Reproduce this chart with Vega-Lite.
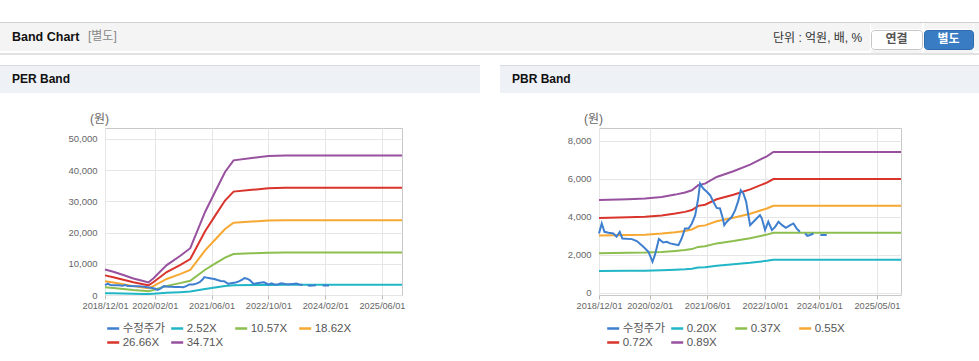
{
  "$schema": "https://vega.github.io/schema/vega-lite/v6.json",
  "background": "white",
  "padding": {"top": 22, "left": 0, "right": 0, "bottom": 0},
  "spacing": 0,
  "config": {
    "font": "Liberation Sans, Noto Sans CJK KR, sans-serif",
    "view": {"stroke": null},
    "concat": {"spacing": 0},
    "axis": {"labelOverlap": false}
  },
  "resolve": {"scale": {"color": "independent", "x": "independent", "y": "independent"}, "legend": {"color": "independent"}},
  "datasets": {
    "none": [],
    "price": [
      {"d":"2018-12-01","v":3120},{"d":"2018-12-24","v":3650},{"d":"2019-01-16","v":3210},{"d":"2019-02-19","v":3160},
      {"d":"2019-04-01","v":3120},{"d":"2019-04-28","v":2950},{"d":"2019-05-25","v":3210},{"d":"2019-06-16","v":2860},
      {"d":"2019-09-04","v":2825},{"d":"2019-10-16","v":2720},{"d":"2019-12-10","v":2420},{"d":"2020-01-22","v":2160},
      {"d":"2020-02-25","v":1630},{"d":"2020-03-16","v":1980},{"d":"2020-04-19","v":2830},{"d":"2020-05-25","v":2650},
      {"d":"2020-06-25","v":2680},{"d":"2020-07-22","v":2600},{"d":"2020-09-04","v":2540},{"d":"2020-10-01","v":2510},
      {"d":"2020-10-28","v":2860},{"d":"2020-11-25","v":3380},{"d":"2020-12-25","v":3380},{"d":"2021-01-22","v":3650},
      {"d":"2021-02-19","v":4090},{"d":"2021-03-16","v":4960},{"d":"2021-04-01","v":5750},{"d":"2021-04-28","v":5490},
      {"d":"2021-05-28","v":5320},{"d":"2021-06-25","v":5140},{"d":"2021-07-22","v":4790},{"d":"2021-08-19","v":4470},
      {"d":"2021-09-16","v":4440},{"d":"2021-10-10","v":3910},{"d":"2021-10-22","v":3560},{"d":"2021-11-13","v":3740},
      {"d":"2021-12-25","v":4000},{"d":"2022-01-22","v":4350},{"d":"2022-02-19","v":4880},{"d":"2022-03-10","v":5400},
      {"d":"2022-04-01","v":5230},{"d":"2022-04-25","v":4790},{"d":"2022-05-13","v":4090},{"d":"2022-05-28","v":3560},
      {"d":"2022-06-25","v":3740},{"d":"2022-07-22","v":3910},{"d":"2022-08-19","v":4090},{"d":"2022-09-04","v":3910},
      {"d":"2022-10-01","v":3300},{"d":"2022-10-28","v":3740},{"d":"2022-11-28","v":3300},{"d":"2022-12-25","v":3470},
      {"d":"2023-01-22","v":3740},{"d":"2023-02-22","v":3560},{"d":"2023-03-25","v":3420},{"d":"2023-05-01","v":3560},
      {"d":"2023-05-28","v":3650},{"d":"2023-06-25","v":3380},{"d":"2023-07-22","v":3210},{"d":"2023-08-12","v":null},
      {"d":"2023-09-04","v":3120},{"d":"2023-09-22","v":3000},{"d":"2023-10-16","v":3040},{"d":"2023-11-13","v":3120},
      {"d":"2023-12-10","v":null},{"d":"2024-01-10","v":3040},{"d":"2024-03-04","v":3040}
    ],
    "perBands": [
      {"d":"2018-12-01","s":"2.52X","v":594},{"d":"2018-12-01","s":"10.57X","v":2491},{"d":"2018-12-01","s":"18.62X","v":4389},{"d":"2018-12-01","s":"26.66X","v":6284},{"d":"2018-12-01","s":"34.71X","v":8181},
      {"d":"2019-02-10","s":"2.52X","v":540},{"d":"2019-02-10","s":"10.57X","v":2265},{"d":"2019-02-10","s":"18.62X","v":3990},{"d":"2019-02-10","s":"26.66X","v":5713},{"d":"2019-02-10","s":"34.71X","v":7438},
      {"d":"2019-05-07","s":"2.52X","v":464},{"d":"2019-05-07","s":"10.57X","v":1946},{"d":"2019-05-07","s":"18.62X","v":3428},{"d":"2019-05-07","s":"26.66X","v":4908},{"d":"2019-05-07","s":"34.71X","v":6390},
      {"d":"2019-08-01","s":"2.52X","v":385},{"d":"2019-08-01","s":"10.57X","v":1614},{"d":"2019-08-01","s":"18.62X","v":2843},{"d":"2019-08-01","s":"26.66X","v":4071},{"d":"2019-08-01","s":"34.71X","v":5300},
      {"d":"2019-10-25","s":"2.52X","v":325},{"d":"2019-10-25","s":"10.57X","v":1361},{"d":"2019-10-25","s":"18.62X","v":2398},{"d":"2019-10-25","s":"26.66X","v":3434},{"d":"2019-10-25","s":"34.71X","v":4471},
      {"d":"2019-12-07","s":"2.52X","v":293},{"d":"2019-12-07","s":"10.57X","v":1227},{"d":"2019-12-07","s":"18.62X","v":2162},{"d":"2019-12-07","s":"26.66X","v":3095},{"d":"2019-12-07","s":"34.71X","v":4030},
      {"d":"2020-01-19","s":"2.52X","v":385},{"d":"2020-01-19","s":"10.57X","v":1614},{"d":"2020-01-19","s":"18.62X","v":2843},{"d":"2020-01-19","s":"26.66X","v":4071},{"d":"2020-01-19","s":"34.71X","v":5300},
      {"d":"2020-05-13","s":"2.52X","v":696},{"d":"2020-05-13","s":"10.57X","v":2917},{"d":"2020-05-13","s":"18.62X","v":5139},{"d":"2020-05-13","s":"26.66X","v":7358},{"d":"2020-05-13","s":"34.71X","v":9580},
      {"d":"2020-09-04","s":"2.52X","v":907},{"d":"2020-09-04","s":"10.57X","v":3806},{"d":"2020-09-04","s":"18.62X","v":6705},{"d":"2020-09-04","s":"26.66X","v":9600},{"d":"2020-09-04","s":"34.71X","v":12499},
      {"d":"2020-12-01","s":"2.52X","v":1089},{"d":"2020-12-01","s":"10.57X","v":4568},{"d":"2020-12-01","s":"18.62X","v":8048},{"d":"2020-12-01","s":"26.66X","v":11522},{"d":"2020-12-01","s":"34.71X","v":15002},
      {"d":"2021-04-07","s":"2.52X","v":1932},{"d":"2021-04-07","s":"10.57X","v":8103},{"d":"2021-04-07","s":"18.62X","v":14274},{"d":"2021-04-07","s":"26.66X","v":20438},{"d":"2021-04-07","s":"34.71X","v":26609},
      {"d":"2021-07-01","s":"2.52X","v":2396},{"d":"2021-07-01","s":"10.57X","v":10049},{"d":"2021-07-01","s":"18.62X","v":17702},{"d":"2021-07-01","s":"26.66X","v":25346},{"d":"2021-07-01","s":"34.71X","v":32999},
      {"d":"2021-09-25","s":"2.52X","v":2861},{"d":"2021-09-25","s":"10.57X","v":11998},{"d":"2021-09-25","s":"18.62X","v":21136},{"d":"2021-09-25","s":"26.66X","v":30262},{"d":"2021-09-25","s":"34.71X","v":39399},
      {"d":"2021-12-07","s":"2.52X","v":3131},{"d":"2021-12-07","s":"10.57X","v":13134},{"d":"2021-12-07","s":"18.62X","v":23137},{"d":"2021-12-07","s":"26.66X","v":33128},{"d":"2021-12-07","s":"34.71X","v":43131},
      {"d":"2022-05-13","s":"2.52X","v":3184},{"d":"2022-05-13","s":"10.57X","v":13356},{"d":"2022-05-13","s":"18.62X","v":23528},{"d":"2022-05-13","s":"26.66X","v":33688},{"d":"2022-05-13","s":"34.71X","v":43860},
      {"d":"2022-10-01","s":"2.52X","v":3231},{"d":"2022-10-01","s":"10.57X","v":13552},{"d":"2022-10-01","s":"18.62X","v":23873},{"d":"2022-10-01","s":"26.66X","v":34181},{"d":"2022-10-01","s":"34.71X","v":44502},
      {"d":"2023-02-22","s":"2.52X","v":3245},{"d":"2023-02-22","s":"10.57X","v":13612},{"d":"2023-02-22","s":"18.62X","v":23979},{"d":"2023-02-22","s":"26.66X","v":34333},{"d":"2023-02-22","s":"34.71X","v":44699},
      {"d":"2025-11-20","s":"2.52X","v":3245},{"d":"2025-11-20","s":"10.57X","v":13612},{"d":"2025-11-20","s":"18.62X","v":23979},{"d":"2025-11-20","s":"26.66X","v":34333},{"d":"2025-11-20","s":"34.71X","v":44699}
    ],
    "pbrBands": [
      {"d":"2018-12-01","s":"0.20X","v":1142},{"d":"2018-12-01","s":"0.37X","v":2079},{"d":"2018-12-01","s":"0.55X","v":3011},{"d":"2018-12-01","s":"0.72X","v":3938},{"d":"2018-12-01","s":"0.89X","v":4880},
      {"d":"2019-08-04","s":"0.20X","v":1154},{"d":"2019-08-04","s":"0.37X","v":2100},{"d":"2019-08-04","s":"0.55X","v":3042},{"d":"2019-08-04","s":"0.72X","v":3979},{"d":"2019-08-04","s":"0.89X","v":4930},
      {"d":"2019-12-25","s":"0.20X","v":1161},{"d":"2019-12-25","s":"0.37X","v":2113},{"d":"2019-12-25","s":"0.55X","v":3060},{"d":"2019-12-25","s":"0.72X","v":4003},{"d":"2019-12-25","s":"0.89X","v":4960},
      {"d":"2020-05-13","s":"0.20X","v":1182},{"d":"2020-05-13","s":"0.37X","v":2151},{"d":"2020-05-13","s":"0.55X","v":3116},{"d":"2020-05-13","s":"0.72X","v":4075},{"d":"2020-05-13","s":"0.89X","v":5050},
      {"d":"2020-09-04","s":"0.20X","v":1210},{"d":"2020-09-04","s":"0.37X","v":2202},{"d":"2020-09-04","s":"0.55X","v":3190},{"d":"2020-09-04","s":"0.72X","v":4172},{"d":"2020-09-04","s":"0.89X","v":5170},
      {"d":"2020-11-25","s":"0.20X","v":1236},{"d":"2020-11-25","s":"0.37X","v":2249},{"d":"2020-11-25","s":"0.55X","v":3258},{"d":"2020-11-25","s":"0.72X","v":4261},{"d":"2020-11-25","s":"0.89X","v":5280},
      {"d":"2021-01-22","s":"0.20X","v":1264},{"d":"2021-01-22","s":"0.37X","v":2300},{"d":"2021-01-22","s":"0.55X","v":3332},{"d":"2021-01-22","s":"0.72X","v":4358},{"d":"2021-01-22","s":"0.89X","v":5400},
      {"d":"2021-03-16","s":"0.20X","v":1327},{"d":"2021-03-16","s":"0.37X","v":2415},{"d":"2021-03-16","s":"0.55X","v":3498},{"d":"2021-03-16","s":"0.72X","v":4576},{"d":"2021-03-16","s":"0.89X","v":5670},
      {"d":"2021-05-13","s":"0.20X","v":1346},{"d":"2021-05-13","s":"0.37X","v":2450},{"d":"2021-05-13","s":"0.55X","v":3548},{"d":"2021-05-13","s":"0.72X","v":4640},{"d":"2021-05-13","s":"0.89X","v":5750},
      {"d":"2021-08-19","s":"0.20X","v":1427},{"d":"2021-08-19","s":"0.37X","v":2599},{"d":"2021-08-19","s":"0.55X","v":3764},{"d":"2021-08-19","s":"0.72X","v":4923},{"d":"2021-08-19","s":"0.89X","v":6100},
      {"d":"2022-01-07","s":"0.20X","v":1498},{"d":"2022-01-07","s":"0.37X","v":2726},{"d":"2022-01-07","s":"0.55X","v":3949},{"d":"2022-01-07","s":"0.72X","v":5165},{"d":"2022-01-07","s":"0.89X","v":6400},
      {"d":"2022-05-28","s":"0.20X","v":1580},{"d":"2022-05-28","s":"0.37X","v":2876},{"d":"2022-05-28","s":"0.55X","v":4165},{"d":"2022-05-28","s":"0.72X","v":5447},{"d":"2022-05-28","s":"0.89X","v":6750},
      {"d":"2022-10-16","s":"0.20X","v":1682},{"d":"2022-10-16","s":"0.37X","v":3063},{"d":"2022-10-16","s":"0.55X","v":4436},{"d":"2022-10-16","s":"0.72X","v":5802},{"d":"2022-10-16","s":"0.89X","v":7190},
      {"d":"2022-12-10","s":"0.20X","v":1736},{"d":"2022-12-10","s":"0.37X","v":3161},{"d":"2022-12-10","s":"0.55X","v":4578},{"d":"2022-12-10","s":"0.72X","v":5988},{"d":"2022-12-10","s":"0.89X","v":7420},
      {"d":"2025-11-20","s":"0.20X","v":1736},{"d":"2025-11-20","s":"0.37X","v":3161},{"d":"2025-11-20","s":"0.55X","v":4578},{"d":"2025-11-20","s":"0.72X","v":5988},{"d":"2025-11-20","s":"0.89X","v":7420}
    ]
  },
  "vconcat": [
    {"width": 979, "height": 1, "data": {"name": "none"}, "mark": "point", "view": {"fill": "#cfcfcf", "stroke": null}},
    {
      "spacing": 0,
      "hconcat": [
        {"width": 84, "height": 28, "data": {"name": "none"}, "mark": "point", "view": {"fill": "#f4f4f4", "stroke": null},
         "title": {"text": "Band Chart", "orient": "top", "anchor": "start", "frame": "group", "baseline": "top", "offset": -20.5, "dx": 12, "fontSize": 12.5, "fontWeight": "bold", "color": "#111111"}},
        {"width": 686, "height": 28, "data": {"name": "none"}, "mark": "point", "view": {"fill": "#f4f4f4", "stroke": null},
         "title": {"text": "[별도]", "orient": "top", "anchor": "start", "frame": "group", "baseline": "top", "offset": -20, "dx": 4, "fontSize": 12, "fontWeight": "normal", "color": "#888888"}},
        {"width": 100, "height": 28, "data": {"name": "none"}, "mark": "point", "view": {"fill": "#f4f4f4", "stroke": null},
         "title": {"text": "단위 : 억원, 배, %", "orient": "top", "anchor": "start", "frame": "group", "baseline": "top", "offset": -21.5, "dx": 3, "fontSize": 12, "fontWeight": "normal", "color": "#333333"}},
        {
          "spacing": 0,
          "vconcat": [
            {"width": 51, "height": 6, "data": {"name": "none"}, "mark": "point", "view": {"fill": "#f4f4f4", "stroke": null}},
            {"width": 51, "height": 19, "data": {"name": "none"}, "mark": "point", "view": {"fill": "#ffffff", "stroke": "#c6c6c6", "cornerRadius": 3},
             "title": {"text": "연결", "orient": "top", "anchor": "middle", "frame": "group", "baseline": "top", "offset": -15.5, "fontSize": 12, "fontWeight": "bold", "color": "#555555"}},
            {"width": 51, "height": 3, "data": {"name": "none"}, "mark": "point", "view": {"fill": "#f4f4f4", "stroke": null}}
          ]
        },
        {
          "spacing": 0,
          "vconcat": [
            {"width": 49, "height": 6, "data": {"name": "none"}, "mark": "point", "view": {"fill": "#f4f4f4", "stroke": null}},
            {"width": 49, "height": 19, "data": {"name": "none"}, "mark": "point", "view": {"fill": "#3a7cc3", "stroke": "#2e6aab", "cornerRadius": 3},
             "title": {"text": "별도", "orient": "top", "anchor": "middle", "frame": "group", "baseline": "top", "offset": -15.5, "fontSize": 12, "fontWeight": "bold", "color": "#ffffff"}},
            {"width": 49, "height": 3, "data": {"name": "none"}, "mark": "point", "view": {"fill": "#f4f4f4", "stroke": null}}
          ]
        },
        {"width": 9, "height": 28, "data": {"name": "none"}, "mark": "point", "view": {"fill": "#f4f4f4", "stroke": null}}
      ]
    },
    {"width": 979, "height": 2, "data": {"name": "none"}, "mark": "point", "view": {"fill": "#e2e2e2", "stroke": null}},
    {"width": 979, "height": 10, "data": {"name": "none"}, "mark": "point"},
    {
      "spacing": 20,
      "hconcat": [
        {
          "spacing": 0,
          "vconcat": [
            {"width": 480, "height": 1, "data": {"name": "none"}, "mark": "point", "view": {"fill": "#d8dce2", "stroke": null}},
            {"width": 480, "height": 27, "data": {"name": "none"}, "mark": "point", "view": {"fill": "#eef1f6", "stroke": null},
             "title": {"text": "PER Band", "orient": "top", "anchor": "start", "frame": "group", "baseline": "top", "offset": -20.3, "dx": 12, "fontSize": 12, "fontWeight": "bold", "color": "#111111"}}
          ]
        },
        {
          "spacing": 0,
          "vconcat": [
            {"width": 479, "height": 1, "data": {"name": "none"}, "mark": "point", "view": {"fill": "#d8dce2", "stroke": null}},
            {"width": 479, "height": 27, "data": {"name": "none"}, "mark": "point", "view": {"fill": "#eef1f6", "stroke": null},
             "title": {"text": "PBR Band", "orient": "top", "anchor": "start", "frame": "group", "baseline": "top", "offset": -20.3, "dx": 12, "fontSize": 12, "fontWeight": "bold", "color": "#111111"}}
          ]
        }
      ]
    },
    {"width": 979, "height": 19, "data": {"name": "none"}, "mark": "point"},
    {
      "spacing": 0,
      "bounds": "flush",
      "resolve": {"scale": {"color": "independent", "x": "independent", "y": "independent"}, "legend": {"color": "independent"}, "axis": {"x": "independent", "y": "independent"}},
      "hconcat": [
        {"width": 105, "height": 167, "data": {"name": "none"}, "mark": "point"},
        {
          "width": 297, "height": 167,
          "view": {"stroke": "#c8c8c8", "fill": "white"},
          "encoding": {
            "x": {"field": "d", "type": "temporal",
              "scale": {"type": "utc", "domain": [{"year": 2018, "month": 12, "date": 1, "utc": true}, {"year": 2025, "month": 11, "date": 20, "utc": true}]},
              "axis": {"title": null, "values": [{"year": 2018, "month": 12, "date": 1, "utc": true}, {"year": 2020, "month": 2, "date": 1, "utc": true}, {"year": 2021, "month": 6, "date": 1, "utc": true}, {"year": 2022, "month": 10, "date": 1, "utc": true}, {"year": 2024, "month": 2, "date": 1, "utc": true}, {"year": 2025, "month": 6, "date": 1, "utc": true}],
                "labelExpr": "utcFormat(datum.value, '%Y/%m/%d')", "labelFlush": false, "labelOverlap": false, "labelFontSize": 9.2, "labelColor": "#666666", "labelPadding": 2,
                "domain": false, "ticks": true, "tickSize": 4, "tickColor": "#bbbbbb", "grid": true, "gridColor": "#e6e6e6"}},
            "y": {"field": "v", "type": "quantitative",
              "scale": {"domain": [0, 53500], "nice": false, "zero": false},
              "axis": {"values": [0, 10000, 20000, 30000, 40000, 50000], "format": ",d", "labelOverlap": false, "labelFontSize": 9.5, "labelColor": "#666666", "labelPadding": 8,
                "domain": false, "ticks": false, "grid": true, "gridColor": "#e6e6e6",
                "title": "(원)", "titleAngle": 0, "titleX": -6, "titleY": -9.3, "titleAlign": "center", "titleBaseline": "middle", "titleFontSize": 12, "titleFontWeight": "normal", "titleColor": "#666666"}}
          },
          "layer": [
            {
              "data": {"name": "perBands"},
              "mark": {"type": "line", "strokeWidth": 2},
              "encoding": {
                "color": {"field": "s", "type": "nominal",
                  "scale": {"domain": ["수정주가", "2.52X", "10.57X", "18.62X", "26.66X", "34.71X"], "range": ["#3f7fcf", "#21b6c6", "#8cbf4f", "#f6a833", "#d9342c", "#97519f"]},
                  "legend": {"title": null, "orient": "none", "legendX": 0.7, "legendY": 193, "direction": "horizontal", "columns": 4, "gridAlign": "all", "columnPadding": 0, "rowPadding": 1, "padding": 0,
                    "symbolType": "stroke", "symbolSize": 144, "symbolStrokeWidth": 2.5, "labelFontSize": 11.5, "labelColor": "#555555", "labelOffset": 2, "labelLimit": 200}}
              }
            },
            {
              "data": {"name": "price"},
              "mark": {"type": "line", "strokeWidth": 2, "invalid": "break-paths-show-domains"},
              "encoding": {
                "color": {"datum": "수정주가"}
              }
            }
          ]
        },
        {"width": 197, "height": 167, "data": {"name": "none"}, "mark": "point"},
        {
          "width": 302, "height": 167,
          "view": {"stroke": "#c8c8c8", "fill": "white"},
          "encoding": {
            "x": {"field": "d", "type": "temporal",
              "scale": {"type": "utc", "domain": [{"year": 2018, "month": 12, "date": 1, "utc": true}, {"year": 2025, "month": 11, "date": 20, "utc": true}]},
              "axis": {"title": null, "values": [{"year": 2018, "month": 12, "date": 1, "utc": true}, {"year": 2020, "month": 2, "date": 1, "utc": true}, {"year": 2021, "month": 6, "date": 1, "utc": true}, {"year": 2022, "month": 10, "date": 1, "utc": true}, {"year": 2024, "month": 1, "date": 1, "utc": true}, {"year": 2025, "month": 5, "date": 1, "utc": true}],
                "labelExpr": "utcFormat(datum.value, '%Y/%m/%d')", "labelFlush": false, "labelOverlap": false, "labelFontSize": 9.2, "labelColor": "#666666", "labelPadding": 2,
                "domain": false, "ticks": true, "tickSize": 4, "tickColor": "#bbbbbb", "grid": true, "gridColor": "#e6e6e6"}},
            "y": {"field": "v", "type": "quantitative",
              "scale": {"domain": [-120, 8680], "nice": false, "zero": false},
              "axis": {"values": [0, 2000, 4000, 6000, 8000], "format": ",d", "labelOverlap": false, "labelFontSize": 9.5, "labelColor": "#666666", "labelPadding": 8,
                "domain": false, "ticks": false, "grid": true, "gridColor": "#e6e6e6",
                "title": "(원)", "titleAngle": 0, "titleX": -6, "titleY": -9.3, "titleAlign": "center", "titleBaseline": "middle", "titleFontSize": 12, "titleFontWeight": "normal", "titleColor": "#666666"}}
          },
          "layer": [
            {
              "data": {"name": "pbrBands"},
              "mark": {"type": "line", "strokeWidth": 2},
              "encoding": {
                "color": {"field": "s", "type": "nominal",
                  "scale": {"domain": ["수정주가", "0.20X", "0.37X", "0.55X", "0.72X", "0.89X"], "range": ["#3f7fcf", "#21b6c6", "#8cbf4f", "#f6a833", "#d9342c", "#97519f"]},
                  "legend": {"title": null, "orient": "none", "legendX": 6.7, "legendY": 193, "direction": "horizontal", "columns": 4, "gridAlign": "all", "columnPadding": 0, "rowPadding": 1, "padding": 0,
                    "symbolType": "stroke", "symbolSize": 144, "symbolStrokeWidth": 2.5, "labelFontSize": 11.5, "labelColor": "#555555", "labelOffset": 2, "labelLimit": 200}}
              }
            },
            {
              "data": {"name": "price"},
              "mark": {"type": "line", "strokeWidth": 2, "invalid": "break-paths-show-domains"},
              "encoding": {
                "color": {"datum": "수정주가"}
              }
            }
          ]
        }
      ]
    }
  ]
}
